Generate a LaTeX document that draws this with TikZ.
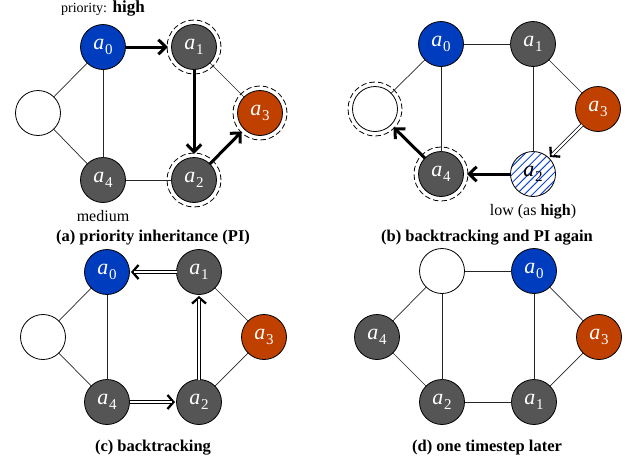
\documentclass[tikz,border=0pt]{standalone}
\usepackage{fontspec}
\setmainfont{Liberation Serif}
\usetikzlibrary{arrows.meta,patterns.meta}
\definecolor{nblue}{RGB}{0,60,190}
\definecolor{nred}{RGB}{192,64,0}
\definecolor{ngray}{RGB}{85,85,85}
\definecolor{hblue}{RGB}{20,70,205}
\newcommand\vlab[1]{\textit{a}\kern0.6pt\raisebox{-0.2em}{\fontsize{15}{15}\selectfont #1}}
\begin{document}
\begin{tikzpicture}[x=1pt,y=-1pt,
  vtx/.style={circle,draw=black,line width=0.8pt,minimum size=45pt,inner sep=0pt,outer sep=0pt,font=\fontsize{22}{24}\selectfont},
  gv/.style={vtx,fill=ngray,text=white},
  bv/.style={vtx,fill=nblue,text=white},
  rv/.style={vtx,fill=nred,text=white},
  wv/.style={vtx,fill=white},
  hv/.style={vtx,preaction={fill=white},pattern={Lines[angle=45,distance=5.7pt,line width=1pt]},pattern color=hblue},
  dring/.style={line width=0.8pt,dash pattern=on 5.5pt off 3pt},
  ln/.style={line width=0.7pt,draw=black!85},
  fat/.style={line width=3pt,-{Straight Barb[length=7.5pt,width=14.5pt]},shorten >=3.5pt},
  dbltip/.style={line width=0.8pt,-{Straight Barb[length=6pt,width=14pt,line width=2.3pt]},shorten >=1.5pt},
  dblshaft/.style={double,double distance=2.2pt,line width=0.8pt,shorten >=4.5pt},
  lab/.style={font=\fontsize{16}{19}\selectfont},
  captxt/.style={font=\fontsize{16.5}{20}\selectfont\bfseries}
]
\useasboundingbox (0,0) rectangle (632,461);

% ---------- (a) ----------
\node[bv] (pa0) at (103,47) {\vlab{0}};
\node[gv] (pa1) at (194,47) {\vlab{1}};
\node[wv] (pl) at (38,113) {};
\node[rv] (pa3) at (260,113) {\vlab{3}};
\node[gv] (pa4) at (103,180) {\vlab{4}};
\node[gv] (pa2) at (194,180) {\vlab{2}};
\draw[dring] (pa1) circle[radius=27pt];
\draw[dring] (pa2) circle[radius=27pt];
\draw[dring] (pa3) circle[radius=27pt];
\draw[ln] (pl) -- (pa0);
\draw[ln] (pl) -- (pa4);
\draw[ln] (pa0) -- (pa4);
\draw[ln] (pa4) -- (pa2);
\draw[ln] (pa1) -- (pa3);
\draw[fat] (pa0) -- (pa1);
\draw[fat] (pa1) -- (pa2);
\draw[fat] (pa2) -- (pa3);
\node[font=\fontsize{17}{20}\selectfont] (tpa) at (103,8) {{\fontsize{14}{16}\selectfont priority:} \textbf{high}};
\node[lab] (tma) at (103,216) {medium};
\node[captxt] (ca) at (153,238) {(a) priority inheritance (PI)};

% ---------- (b) ----------
\node[bv] (qa0) at (441,44) {\vlab{0}};
\node[gv] (qa1) at (533,44) {\vlab{1}};
\node[wv] (ql) at (375,109) {};
\node[rv] (qa3) at (598,109) {\vlab{3}};
\node[gv] (qa4) at (441,174) {\vlab{4}};
\node[hv] (qa2) at (533,174) {\vlab{2}};
\draw[dring] (ql) circle[radius=27pt];
\draw[dring] (qa4) circle[radius=27pt];
\draw[ln] (ql) -- (qa0);
\draw[ln] (qa0) -- (qa1);
\draw[ln] (qa0) -- (qa4);
\draw[ln] (qa1) -- (qa2);
\draw[ln] (qa1) -- (qa3);
\draw[fat] (qa2) -- (qa4);
\draw[fat] (qa4) -- (ql);
\draw[dbltip] (qa3) -- (qa2);
\draw[dblshaft] (qa3) -- (qa2);
\node[lab] (tlb) at (533,212) {low (as \textbf{high})};
\node[captxt] (cb) at (487,238) {(b) backtracking and PI again};

% ---------- (c) ----------
\node[bv] (ra0) at (107,272) {\vlab{0}};
\node[gv] (ra1) at (199,272) {\vlab{1}};
\node[wv] (rl) at (43,337) {};
\node[rv] (ra3) at (264,337) {\vlab{3}};
\node[gv] (ra4) at (107,402) {\vlab{4}};
\node[gv] (ra2) at (199,402) {\vlab{2}};
\draw[ln] (rl) -- (ra0);
\draw[ln] (rl) -- (ra4);
\draw[ln] (ra0) -- (ra4);
\draw[ln] (ra1) -- (ra3);
\draw[ln] (ra3) -- (ra2);
\draw[dbltip] (ra1) -- (ra0);
\draw[dblshaft] (ra1) -- (ra0);
\draw[dbltip] (ra2) -- (ra1);
\draw[dblshaft] (ra2) -- (ra1);
\draw[dbltip] (ra4) -- (ra2);
\draw[dblshaft] (ra4) -- (ra2);
\node[captxt] (cc) at (153,448) {(c) backtracking};

% ---------- (d) ----------
\node[wv] (sw) at (442,271) {};
\node[bv] (sa0) at (534,271) {\vlab{0}};
\node[gv] (sa4) at (377,337) {\vlab{4}};
\node[rv] (sa3) at (599,337) {\vlab{3}};
\node[gv] (sa2) at (442,402) {\vlab{2}};
\node[gv] (sa1) at (534,402) {\vlab{1}};
\draw[ln] (sw) -- (sa0);
\draw[ln] (sw) -- (sa4);
\draw[ln] (sw) -- (sa2);
\draw[ln] (sa0) -- (sa1);
\draw[ln] (sa0) -- (sa3);
\draw[ln] (sa3) -- (sa1);
\draw[ln] (sa4) -- (sa2);
\draw[ln] (sa2) -- (sa1);
\node[captxt] (cd) at (487,448) {(d) one timestep later};
\end{tikzpicture}
\end{document}
